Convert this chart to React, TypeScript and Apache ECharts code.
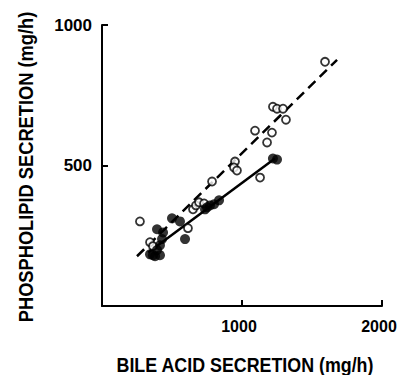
import React, { useEffect, useRef } from "react";
import * as echarts from "echarts";

const openX = [271, 343, 364, 614, 650, 671, 693, 729, 786, 950, 943, 964, 1093, 1214, 1179, 1129, 1221, 1250, 1293, 1314, 1593];
const openY = [301, 227, 213, 277, 344, 358, 369, 365, 443, 514, 493, 482, 624, 617, 582, 457, 709, 702, 702, 663, 869];

const filledX = [343, 379, 414, 393, 414, 429, 393, 436, 500, 557, 593, 736, 750, 771, 800, 836, 1221, 1250, 364];
const filledY = [184, 177, 181, 199, 216, 238, 273, 262, 312, 301, 238, 344, 351, 358, 362, 376, 525, 521, 181];

const dashedLineX = [250, 1679];
const dashedLineY = [177, 876];
const solidLineX = [330, 1235];
const solidLineY = [190, 525];

const xTicks = [0, 1000, 2000];
const yTicks = [0, 500, 1000];

const xTitle = "BILE ACID SECRETION (mg/h)";
const yTitle = "PHOSPHOLIPID SECRETION (mg/h)";

const FONT = '"Liberation Sans", Arial, sans-serif';

export default function App() {
  const ref = useRef<HTMLDivElement>(null);
  useEffect(() => {
    const chart = echarts.init(ref.current!, null, { renderer: "svg" });
    const zip = (xs: number[], ys: number[]) => xs.map((x, i) => [x, ys[i]]);
    chart.setOption({
      animation: false,
      backgroundColor: "#fff",
      grid: { left: 102, right: 16, top: 25, bottom: 69, containLabel: false, outerBoundsMode: "none" },
      xAxis: {
        type: "value",
        min: xTicks[0],
        max: xTicks[xTicks.length - 1],
        interval: 1000,
        splitLine: { show: false },
        axisLine: { lineStyle: { color: "#000", width: 2 } },
        axisTick: { inside: true, length: 6, lineStyle: { color: "#000", width: 2 } },
        axisLabel: {
          color: "#000",
          fontFamily: FONT,
          fontWeight: "bold",
          fontSize: 16,
          margin: 12,
          padding: [0, 6, 0, 0],
          formatter: (v: number) => (v === 0 ? "" : String(v)),
        },
      },
      yAxis: {
        type: "value",
        min: yTicks[0],
        max: yTicks[yTicks.length - 1],
        interval: 500,
        splitLine: { show: false },
        axisLine: { lineStyle: { color: "#000", width: 2 } },
        axisTick: { inside: true, length: 6, lineStyle: { color: "#000", width: 2 } },
        axisLabel: {
          color: "#000",
          fontFamily: FONT,
          fontWeight: "bold",
          fontSize: 17,
          margin: 10,
          formatter: (v: number) => (v === 0 ? "" : String(v)),
        },
      },
      graphic: [
        {
          type: "text",
          x: 245,
          y: 364,
          scaleX: 0.85,
          style: {
            text: xTitle,
            fill: "#000",
            font: `bold 21px ${FONT}`,
            textAlign: "center",
            textVerticalAlign: "middle",
          },
        },
        {
          type: "text",
          x: 26,
          y: 167,
          rotation: Math.PI / 2,
          scaleX: 0.87,
          style: {
            text: yTitle,
            fill: "#000",
            font: `bold 21px ${FONT}`,
            textAlign: "center",
            textVerticalAlign: "middle",
          },
        },
      ],
      series: [
        {
          type: "line",
          data: zip(dashedLineX, dashedLineY),
          symbol: "none",
          lineStyle: { color: "#000", width: 2.5, type: [10, 6] },
          z: 1,
        },
        {
          type: "line",
          data: zip(solidLineX, solidLineY),
          symbol: "none",
          lineStyle: { color: "#000", width: 2.5 },
          z: 1,
        },
        {
          type: "scatter",
          data: zip(openX, openY),
          symbol: "circle",
          symbolSize: 8,
          itemStyle: { color: "#fff", borderColor: "#000", borderWidth: 1.8 },
          z: 3,
        },
        {
          type: "scatter",
          data: zip(filledX, filledY),
          symbol: "circle",
          symbolSize: 10,
          itemStyle: { color: "#000" },
          z: 4,
        },
      ],
    });
    return () => chart.dispose();
  }, []);
  return <div ref={ref} style={{ width: 398, height: 375, position: "absolute", left: 0, top: 0 }} />;
}
